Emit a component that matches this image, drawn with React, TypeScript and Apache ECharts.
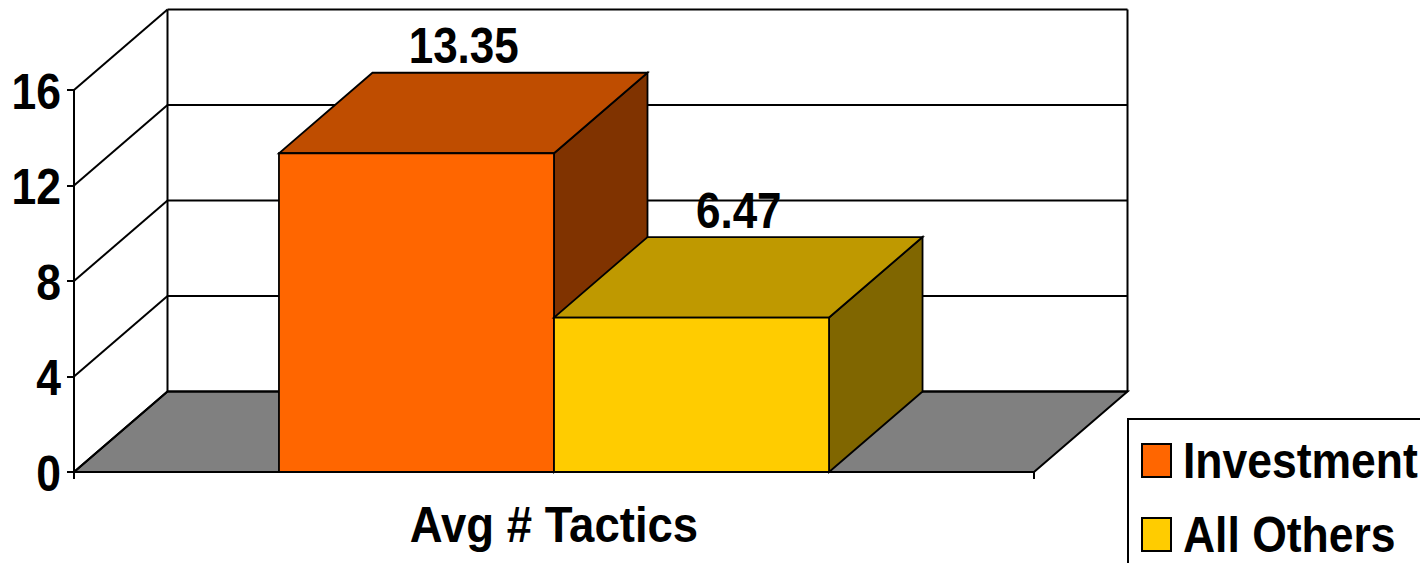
import React, { useEffect, useRef } from "react";
import * as echarts from "echarts";

const categories = ["Avg # Tactics"];
const seriesNames = ["Investment", "All Others"];
const investmentValues = [13.35];
const allOthersValues = [6.47];
const tickValues = [0, 4, 8, 12, 16];

const frontColors = ["#FF6600", "#FFCC00"];
const topColors = ["#BF4D00", "#BF9900"];
const sideColors = ["#803300", "#806600"];
const floorColor = "#808080";

// Oblique projection of the chart's depth, in pixels.
const DEPTH_X = 93.5;
const DEPTH_Y = -80.5;
const BAR_BAND_SHARE = 0.2865;

// All lettering is Arial-style bold, condensed horizontally.
const textBase = {
  fontFamily: "Liberation Sans",
  fontWeight: "bold",
  fontSize: 50,
  fill: "#000",
};
const TEXT_SCALE_X = 0.89;

const edge = { stroke: "#000", lineWidth: 2 };

function polygon(points: number[][], fill: string) {
  return {
    type: "polygon",
    shape: { points },
    style: { fill, stroke: "#000", lineWidth: 1.8, lineJoin: "miter" },
  };
}

function line(a: number[], b: number[]) {
  return {
    type: "line",
    shape: { x1: a[0], y1: a[1], x2: b[0], y2: b[1] },
    style: edge,
  };
}

function label(text: string, x: number, y: number, align: string, scaleX = TEXT_SCALE_X) {
  return {
    type: "text",
    x,
    y,
    scaleX,
    style: { ...textBase, text, align, verticalAlign: "middle" },
  };
}

// Floor, back wall, side wall, gridlines and the axis lettering.
function renderRoom(_params: any, api: any) {
  const band = api.size([1, 0])[0];
  const centre = api.coord([0, 0]);
  const x0 = centre[0] - band / 2;
  const x1 = centre[0] + band / 2;
  const children: any[] = [];
  const yBase = centre[1];
  children.push({
    type: "polygon",
    shape: {
      points: [
        [x0, yBase],
        [x1, yBase],
        [x1 + DEPTH_X, yBase + DEPTH_Y],
        [x0 + DEPTH_X, yBase + DEPTH_Y],
      ],
    },
    style: { fill: floorColor, stroke: "#000", lineWidth: 2 },
  });
  tickValues.forEach((v) => {
    const y = api.coord([0, v])[1];
    children.push(line([x0, y], [x0 + DEPTH_X, y + DEPTH_Y]));
    children.push(line([x0 + DEPTH_X, y + DEPTH_Y], [x1 + DEPTH_X, y + DEPTH_Y]));
    children.push(label(String(v), x0 - 13, y + 1.5, "right"));
  });
  const top = api.coord([0, tickValues[tickValues.length - 1]])[1] + DEPTH_Y;
  children.push(line([x0 + DEPTH_X, top], [x0 + DEPTH_X, yBase + DEPTH_Y]));
  children.push(line([x1 + DEPTH_X, top], [x1 + DEPTH_X, yBase + DEPTH_Y]));
  children.push(label(categories[0], centre[0], yBase + 53, "center", 0.91));
  return { type: "group", children };
}

// One prism: front face, top face, side face, and the value above it.
function makeBar(seriesIndex: number) {
  return (_params: any, api: any) => {
    const value = api.value(1);
    const band = api.size([1, 0])[0];
    const centre = api.coord([api.value(0), 0]);
    const w = band * BAR_BAND_SHARE;
    const x0 = centre[0] + (seriesIndex - 1) * w;
    const x1 = x0 + w;
    const yB = centre[1];
    const yT = api.coord([api.value(0), value])[1];
    const dx = DEPTH_X;
    const dy = DEPTH_Y;
    return {
      type: "group",
      children: [
        polygon(
          [
            [x1, yB],
            [x1 + dx, yB + dy],
            [x1 + dx, yT + dy],
            [x1, yT],
          ],
          sideColors[seriesIndex],
        ),
        polygon(
          [
            [x0, yT],
            [x1, yT],
            [x1 + dx, yT + dy],
            [x0 + dx, yT + dy],
          ],
          topColors[seriesIndex],
        ),
        polygon(
          [
            [x0, yB],
            [x1, yB],
            [x1, yT],
            [x0, yT],
          ],
          frontColors[seriesIndex],
        ),
        label(String(value), (x0 + x1) / 2 + dx / 2 + 0.5, yT + dy - 27, "center", 0.88),
      ],
    };
  };
}

const legendRows = [
  { symbolY: 444, textY: 461 },
  { symbolY: 518, textY: 535 },
];

export default function App() {
  const ref = useRef<HTMLDivElement>(null);

  useEffect(() => {
    if (!ref.current) return;
    const chart = echarts.init(ref.current, undefined, { renderer: "svg" });
    chart.setOption({
      animation: false,
      backgroundColor: "#fff",
      grid: { left: 74, width: 960, top: 90, height: 382 },
      xAxis: {
        type: "category",
        data: categories,
        z: 5,
        axisLine: { show: true, lineStyle: { color: "#000", width: 2 } },
        axisTick: { show: true, length: 7, lineStyle: { color: "#000", width: 2 } },
        axisLabel: { show: false },
      },
      yAxis: {
        type: "value",
        min: 0,
        max: 16,
        interval: 4,
        z: 5,
        splitLine: { show: false },
        axisLine: { show: true, lineStyle: { color: "#000", width: 2 } },
        axisTick: { show: true, length: 7, lineStyle: { color: "#000", width: 2 } },
        axisLabel: { show: false },
      },
      series: [
        { type: "custom", name: "room", z: 1, renderItem: renderRoom, data: [[0, 0]], silent: true },
        {
          type: "custom",
          name: seriesNames[0],
          z: 2,
          renderItem: makeBar(0),
          data: investmentValues.map((v, i) => [i, v]),
        },
        {
          type: "custom",
          name: seriesNames[1],
          z: 3,
          renderItem: makeBar(1),
          data: allOthersValues.map((v, i) => [i, v]),
        },
      ],
      graphic: [
        {
          type: "rect",
          shape: { x: 1128, y: 419, width: 320, height: 190 },
          style: { fill: "#fff", stroke: "#000", lineWidth: 2 },
        },
        ...seriesNames.flatMap((name, i) => [
          {
            type: "rect",
            shape: { x: 1142, y: legendRows[i].symbolY, width: 29, height: 33 },
            style: { fill: frontColors[i], stroke: "#000", lineWidth: 2 },
          },
          {
            type: "text",
            x: 1183,
            y: legendRows[i].textY,
            scaleX: TEXT_SCALE_X,
            style: { ...textBase, text: name, align: "left", verticalAlign: "middle" },
          },
        ]),
      ],
    });
    return () => chart.dispose();
  }, []);

  return (
    <div
      ref={ref}
      style={{ position: "fixed", left: 0, top: 0, width: 1420, height: 563, overflow: "hidden" }}
    />
  );
}
